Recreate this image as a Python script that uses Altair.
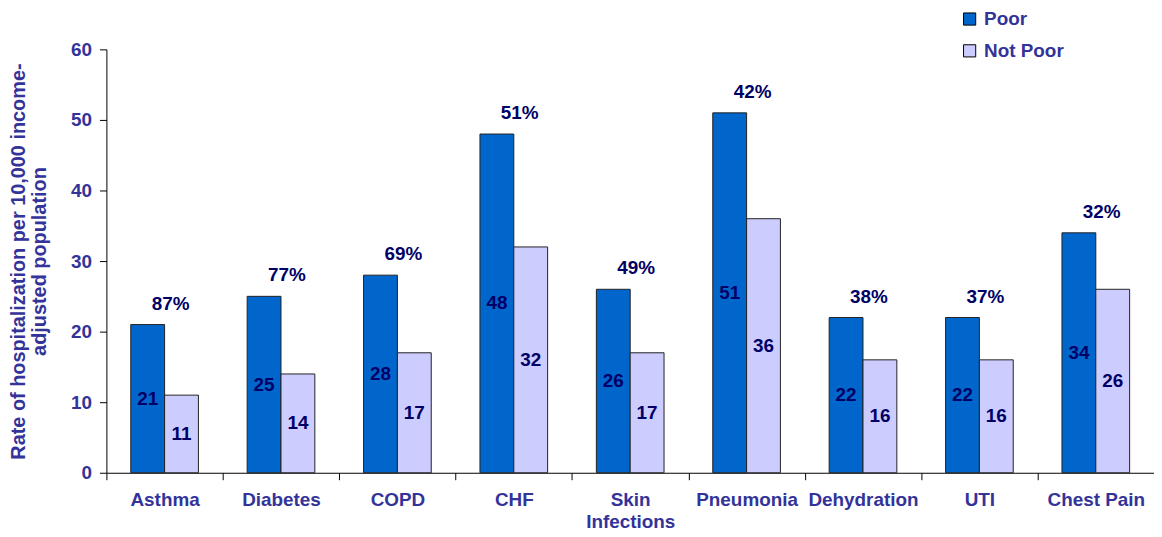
import altair as alt
import pandas as pd

categories = ["Asthma", "Diabetes", "COPD", "CHF", "Skin Infections",
              "Pneumonia", "Dehydration", "UTI", "Chest Pain"]
poor = [21, 25, 28, 48, 26, 51, 22, 22, 34]
not_poor = [11, 14, 17, 32, 17, 36, 16, 16, 26]
pct_labels = ["87%", "77%", "69%", "51%", "49%", "42%", "38%", "37%", "32%"]
groups = ["Poor", "Not Poor"]
colors = ["#0066CC", "#CCCCFF"]

rows = []
for c, p, n in zip(categories, poor, not_poor):
    rows.append({"cat": c, "group": "Poor", "value": p, "mid": p / 2})
    rows.append({"cat": c, "group": "Not Poor", "value": n, "mid": n / 2})
df = pd.DataFrame(rows)
pdf = pd.DataFrame({"cat": categories, "poor": poor, "pct": pct_labels})

FONT = "Liberation Sans"
AXC = "#333399"
VALC = "#000066"

x_enc = alt.X(
    "cat:N",
    sort=categories,
    scale=alt.Scale(paddingInner=0, paddingOuter=0, round=False),
    axis=alt.Axis(
        title=None, labelAngle=0, tickBand="extent", tickSize=7,
        tickColor="#000000", domainColor="#000000", labelPadding=11,
        labelFont=FONT, labelFontSize=19, labelFontWeight="bold",
        labelColor=AXC, labelLineHeight=22,
        labelExpr="datum.label == 'Skin Infections' ? ['Skin', 'Infections'] : datum.label",
    ),
)
y_scale = alt.Scale(domain=[0, 60], nice=False)
xoff = alt.XOffset("group:N", scale=alt.Scale(domain=groups, paddingInner=0,
                                               paddingOuter=0.72, round=False))

bars = alt.Chart(df).mark_bar(stroke="#222222", strokeWidth=1).encode(
    x=x_enc,
    xOffset=xoff,
    y=alt.Y(
        "value:Q", scale=y_scale,
        axis=alt.Axis(
            title=["Rate of hospitalization per 10,000 income-", "adjusted population"],
            values=[0, 10, 20, 30, 40, 50, 60], grid=False, tickSize=7,
            tickColor="#000000", domainColor="#000000", labelPadding=8,
            labelFont=FONT, labelFontSize=19, labelFontWeight="bold", labelColor=AXC,
            titleFont=FONT, titleFontSize=20, titleFontWeight="bold", titleColor=AXC,
            titlePadding=21, titleLineHeight=21,
        ),
    ),
    color=alt.Color(
        "group:N",
        scale=alt.Scale(domain=groups, range=colors),
        legend=alt.Legend(
            title=None, orient="none", legendX=859, legendY=-40,
            symbolType="square", symbolSize=150, symbolStrokeColor="#000000",
            symbolStrokeWidth=1, rowPadding=12, labelFont=FONT, labelFontSize=19,
            labelFontWeight="bold", labelColor=AXC, labelOffset=5,
        ),
    ),
)

vals = alt.Chart(df).mark_text(
    font=FONT, fontSize=19, fontWeight="bold", color=VALC, baseline="middle"
).encode(
    x=alt.X("cat:N", sort=categories),
    xOffset=alt.XOffset("group:N"),
    y=alt.Y("mid:Q"),
    text=alt.Text("value:Q"),
)

pcts = alt.Chart(pdf).mark_text(
    font=FONT, fontSize=19, fontWeight="bold", color=VALC, baseline="middle",
    dx=6, dy=-21,
).encode(
    x=alt.X("cat:N", sort=categories),
    y=alt.Y("poor:Q"),
    text=alt.Text("pct:N"),
)

chart = alt.layer(bars, vals, pcts).properties(
    width=1054, height=426,
    padding={"left": 99, "top": 40, "right": 0, "bottom": 58},
    autosize=alt.AutoSizeParams(type="none"),
).configure_view(stroke=None)

chart.save("out.html", embed_options={"renderer": "svg", "actions": False})
